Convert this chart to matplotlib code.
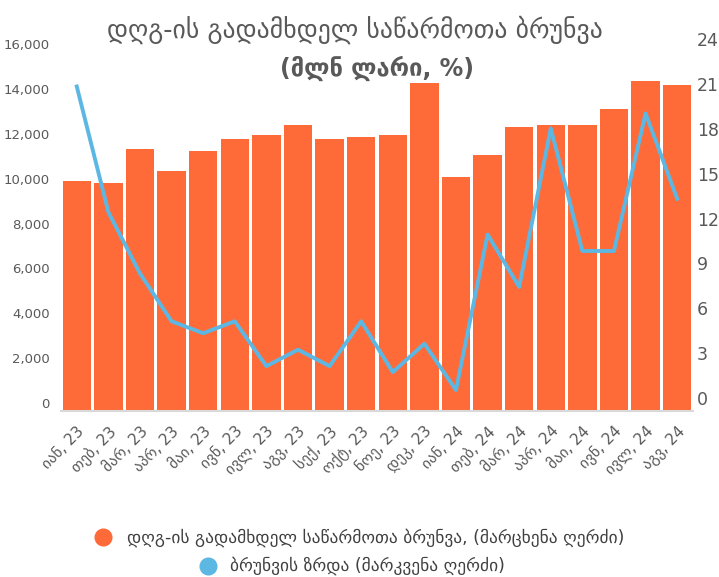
import numpy as np
import matplotlib.pyplot as plt
import matplotlib.transforms as mtransforms
from matplotlib.lines import Line2D

plt.rcParams['font.family'] = ['DejaVu Sans']

# Data
months = ['იან, 23', 'თებ, 23', 'მარ, 23', 'აპრ, 23', 'მაი, 23', 'ივნ, 23',
          'ივლ, 23', 'აგვ, 23', 'სექ, 23', 'ოქტ, 23', 'ნოე, 23', 'დეკ, 23',
          'იან, 24', 'თებ, 24', 'მარ, 24', 'აპრ, 24', 'მაი, 24', 'ივნ, 24',
          'ივლ, 24', 'აგვ, 24']
turnover = [10250, 10160, 11680, 10700, 11590, 12120, 12300, 12750, 12120, 12210,
            12300, 14620, 10430, 11410, 12660, 12750, 12750, 13460, 14710, 14530]
growth = [21.7, 13.3, 9.2, 6.0, 5.2, 6.0, 3.0, 4.1, 3.0, 6.0,
          2.6, 4.5, 1.4, 11.8, 8.3, 18.9, 10.7, 10.7, 19.9, 14.2]

bar_color = '#FF6A39'
line_color = '#5DB7E3'
text_color = '#595959'

fig = plt.figure(figsize=(7.19, 5.77), dpi=100)
ax = fig.add_axes([0.0848, 0.2877, 0.879, 0.622])
ax2 = ax.twinx()

x = np.arange(len(months))
ax.bar(x, turnover, width=0.9, color=bar_color, zorder=2)
ax2.plot(x, growth, color=line_color, linewidth=2.8, zorder=3)

ax.set_xlim(-0.5, len(months) - 0.5)
ax.set_ylim(0, 16000)
ax2.set_ylim(0, 24)
ax.set_yticks(np.arange(0, 16001, 2000))
ax.set_yticklabels([f'{v:,}' for v in range(0, 16001, 2000)])
ax2.set_yticks(np.arange(0, 25, 3))

ax.set_xticks(x)
ax.set_xticklabels(months, rotation=45, ha='right', va='top',
                   rotation_mode='anchor', fontsize=11, color=text_color)

for a in (ax, ax2):
    for s in a.spines.values():
        s.set_visible(False)
    a.tick_params(length=0)
ax.spines['bottom'].set_visible(True)
ax.spines['bottom'].set_color('#D9D9D9')
ax.spines['bottom'].set_linewidth(1.5)

ax.tick_params(axis='y', labelsize=9.5, labelcolor=text_color, pad=8)
ax2.tick_params(axis='y', labelsize=12.5, labelcolor=text_color, pad=3)
ax.tick_params(axis='x', pad=9)
ax.set_zorder(ax2.get_zorder() - 1)
ax2.patch.set_visible(False)

# tick labels sit a little above their ticks in the original
up_left = mtransforms.ScaledTranslation(0, 0.08, fig.dpi_scale_trans)
up_right = mtransforms.ScaledTranslation(0, 0.13, fig.dpi_scale_trans)
for lab in ax.get_yticklabels():
    lab.set_transform(lab.get_transform() + up_left)
for lab in ax2.get_yticklabels():
    lab.set_transform(lab.get_transform() + up_right)

fig.text(0.494, 0.948, 'დღგ-ის გადამხდელ საწარმოთა ბრუნვა', ha='center', va='center',
         fontsize=18.5, color=text_color)
fig.text(0.525, 0.882, '(მლნ ლარი, %)', ha='center', va='center',
         fontsize=17, color=text_color, fontweight='bold')

# legend, each row centred on its own
fig.add_artist(Line2D([0.143], [0.069], marker='o', markersize=12, color=bar_color,
                      linestyle='none', transform=fig.transFigure))
fig.text(0.177, 0.069, 'დღგ-ის გადამხდელ საწარმოთა ბრუნვა, (მარცხენა ღერძი)',
         fontsize=12.5, color='#404040', ha='left', va='center')
fig.add_artist(Line2D([0.289], [0.019], marker='o', markersize=12, color=line_color,
                      linestyle='none', transform=fig.transFigure))
fig.text(0.32, 0.019, 'ბრუნვის ზრდა (მარკვენა ღერძი)',
         fontsize=12.5, color='#404040', ha='left', va='center')

fig.savefig('out.png', dpi=100)
